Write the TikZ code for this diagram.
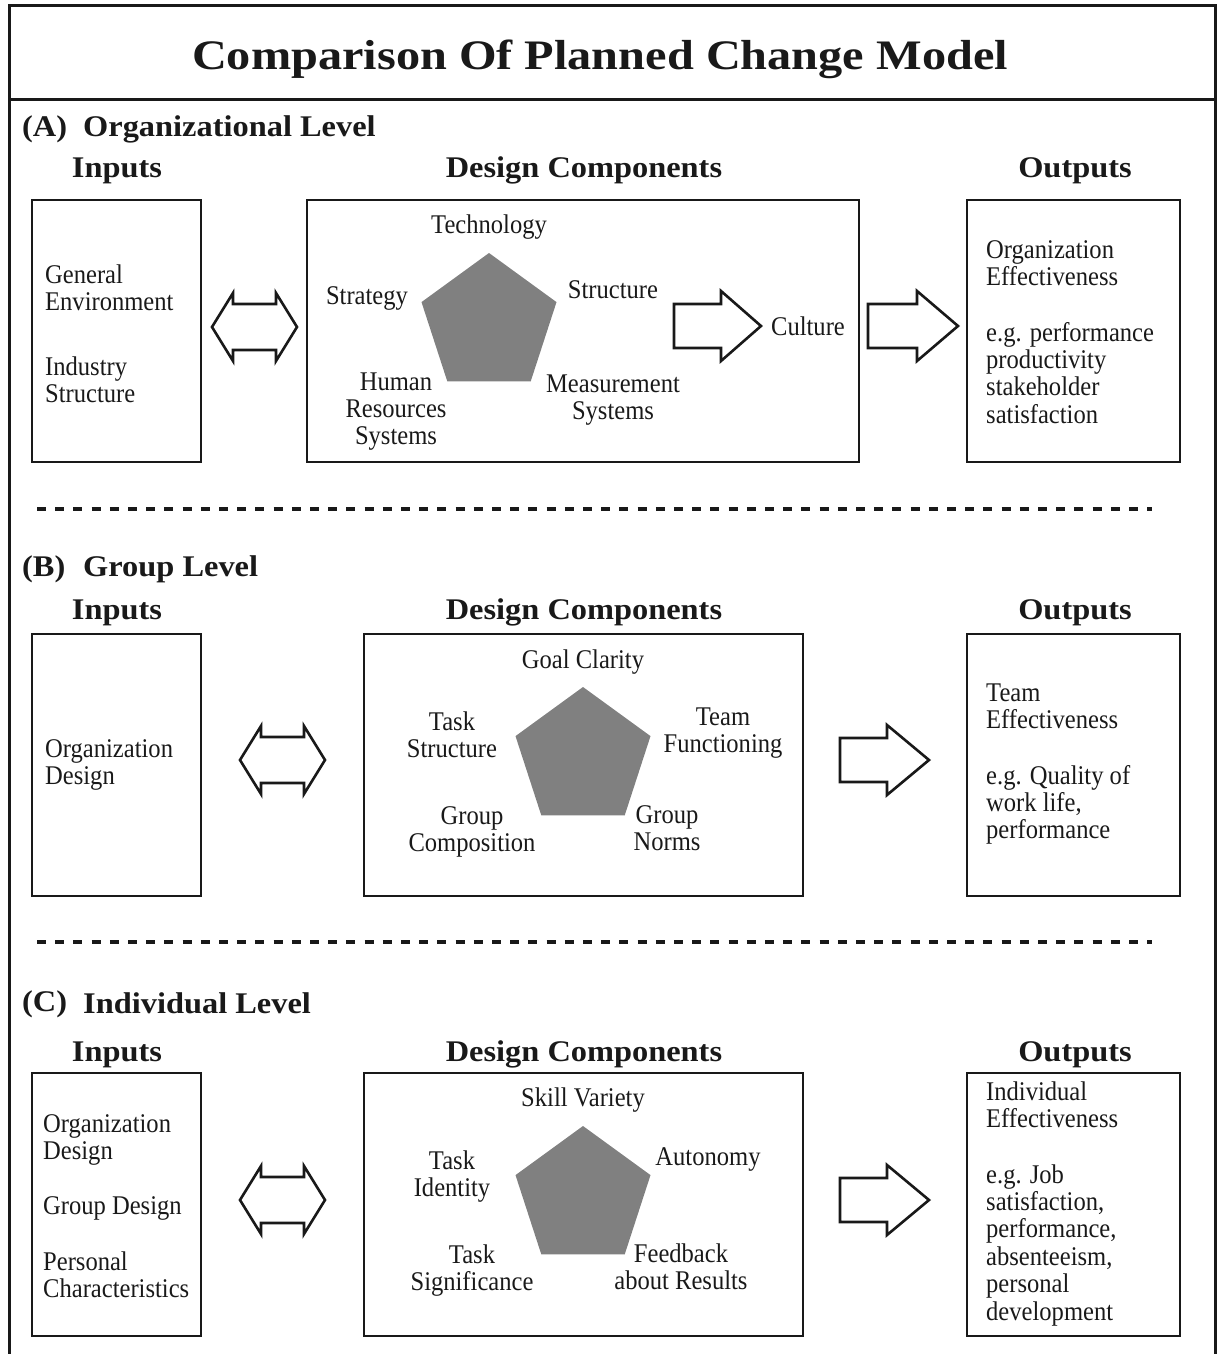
\documentclass[tikz,border=0pt]{standalone}
\usepackage{fontspec}
\setmainfont{Liberation Serif}
\newfontfamily\bodyf[FakeStretch=0.91]{Liberation Serif}
\newfontfamily\headf[FakeStretch=1.08]{Liberation Serif}
\newfontfamily\titlef[FakeStretch=1.15]{Liberation Serif}
\newcommand\dblarr[4]{% name, x1, x2, cy
  \draw[blockarrow] (#2,#4) -- (#2+21,#4-34) -- (#2+21,#4-23) -- (#3-21,#4-23) -- (#3-21,#4-34)
    -- (#3,#4) -- (#3-21,#4+34) -- (#3-21,#4+23) -- (#2+21,#4+23) -- (#2+21,#4+34) -- cycle;
  \coordinate (#1) at ({(#2+#3)/2},#4);}
\newcommand\sglarr[5]{% name, x1, xbase, xtip, cy
  \draw[blockarrow] (#2,#5-22) -- (#3,#5-22) -- (#3,#5-35) -- (#4,#5) -- (#3,#5+35) -- (#3,#5+22) -- (#2,#5+22) -- cycle;
  \coordinate (#1) at ({(#2+#4)/2},#5);}
\newcommand\penta[3]{% name, cx, top
  \fill[pentfill] (#2,#3) -- (#2+67.5,#3+49.1) -- (#2+41.7,#3+128.4) -- (#2-41.7,#3+128.4) -- (#2-67.5,#3+49.1) -- cycle;
  \coordinate (#1) at (#2,#3+71);}
\begin{document}
\begin{tikzpicture}[x=1pt,y=-1pt,
  frame/.style={line width=3pt, draw=black!90},
  box/.style={draw=black!90, line width=2.6pt, inner sep=0pt, outer sep=0pt, anchor=north west},
  blockarrow/.style={draw=black!90, line width=2.6pt, fill=white, line join=miter},
  pentfill/.style={fill=black!50},
  sep/.style={line width=4.5pt, draw=black!90, dash pattern=on 9pt off 9.2pt},
  body/.style={font=\bodyf\fontsize{27}{27.4}\selectfont, inner sep=0pt, align=left, text=black!90},
  bodyc/.style={font=\bodyf\fontsize{27}{27.4}\selectfont, inner sep=0pt, align=center, text=black!90},
  head/.style={font=\headf\bfseries\fontsize{30}{30}\selectfont, inner sep=0pt, text=black!90},
  ttl/.style={font=\titlef\bfseries\fontsize{42}{42}\selectfont, inner sep=0pt, text=black!90}]
\useasboundingbox (0,0) rectangle (1218,1354);
% frame
\draw[frame] (9.5,1370) -- (9.5,5.5) -- (1215.5,5.5) -- (1215.5,1370);
\draw[frame] (9.5,99) -- (1215.5,99);
\node[ttl, anchor=base] (title) at (600,70) {Comparison Of Planned Change Model};

% ===== Section A =====
\node[head, anchor=base west] (hA) at (22,136) {(A)};
\node[head, anchor=base west] (hAt) at (83,136) {Organizational Level};
\node[head, anchor=base] (inA) at (117,177) {Inputs};
\node[head, anchor=base] (dcA) at (584,177) {Design Components};
\node[head, anchor=base] (ouA) at (1075,177) {Outputs};
\node[box, minimum width=169pt, minimum height=262pt] (bInA) at (32,200) {};
\node[box, minimum width=552pt, minimum height=262pt] (bDcA) at (307,200) {};
\node[box, minimum width=213pt, minimum height=262pt] (bOuA) at (967,200) {};
\node[body, anchor=base west] (a1) at (45,310.4) {General\\Environment};
\node[body, anchor=base west] (a2) at (45,402.4) {Industry\\Structure};
\penta{pA}{489}{253}
\node[bodyc, anchor=base] (a3) at (489,233) {Technology};
\node[bodyc, anchor=base] (a4) at (367,304) {Strategy};
\node[bodyc, anchor=base] (a5) at (613,298) {Structure};
\node[bodyc, anchor=base] (a6) at (396,444.8) {Human\\Resources\\Systems};
\node[bodyc, anchor=base] (a7) at (613,419.4) {Measurement\\Systems};
\node[bodyc, anchor=base] (a8) at (808,335) {Culture};
\node[body, anchor=base west] (a9) at (986,285.4) {Organization\\Effectiveness};
\node[body, anchor=base west] (a10) at (986,423.2) {e.g. performance\\productivity\\stakeholder\\satisfaction};
\dblarr{arA1}{212}{297}{327}
\sglarr{arA2}{674}{721}{761}{326}
\sglarr{arA3}{868}{917}{958}{326}
\draw[sep] (37,509) -- (1152,509);

% ===== Section B =====
\node[head, anchor=base west] (hB) at (22,576) {(B)};
\node[head, anchor=base west] (hBt) at (83,576) {Group Level};
\node[head, anchor=base] (inB) at (117,619) {Inputs};
\node[head, anchor=base] (dcB) at (584,619) {Design Components};
\node[head, anchor=base] (ouB) at (1075,619) {Outputs};
\node[box, minimum width=169pt, minimum height=262pt] (bInB) at (32,634) {};
\node[box, minimum width=439pt, minimum height=262pt] (bDcB) at (364,634) {};
\node[box, minimum width=213pt, minimum height=262pt] (bOuB) at (967,634) {};
\node[body, anchor=base west] (b1) at (45,784.4) {Organization\\Design};
\penta{pB}{583}{687}
\node[bodyc, anchor=base] (b2) at (583,668) {Goal Clarity};
\node[bodyc, anchor=base] (b3) at (452,757.4) {Task\\Structure};
\node[bodyc, anchor=base] (b4) at (723,752.4) {Team\\Functioning};
\node[bodyc, anchor=base] (b5) at (472,851.4) {Group\\Composition};
\node[bodyc, anchor=base] (b6) at (667,850.4) {Group\\Norms};
\node[body, anchor=base west] (b7) at (986,728.4) {Team\\Effectiveness};
\node[body, anchor=base west] (b8) at (986,838.8) {e.g. Quality of\\work life,\\performance};
\dblarr{arB1}{240}{325}{760}
\sglarr{arB2}{840}{887}{929}{760}
\draw[sep] (37,942) -- (1152,942);

% ===== Section C =====
\node[head, anchor=base west] (hC) at (22,1011) {(C)};
\node[head, anchor=base west] (hCt) at (83,1013) {Individual Level};
\node[head, anchor=base] (inC) at (117,1061) {Inputs};
\node[head, anchor=base] (dcC) at (584,1061) {Design Components};
\node[head, anchor=base] (ouC) at (1075,1061) {Outputs};
\node[box, minimum width=169pt, minimum height=263pt] (bInC) at (32,1073) {};
\node[box, minimum width=439pt, minimum height=263pt] (bDcC) at (364,1073) {};
\node[box, minimum width=213pt, minimum height=263pt] (bOuC) at (967,1073) {};
\node[body, anchor=base west] (c1) at (43,1159.4) {Organization\\Design};
\node[body, anchor=base west] (c2) at (43,1214) {Group Design};
\node[body, anchor=base west] (c3) at (43,1297.4) {Personal\\Characteristics};
\penta{pC}{583}{1126}
\node[bodyc, anchor=base] (c4) at (583,1106) {Skill Variety};
\node[bodyc, anchor=base] (c5) at (452,1196.4) {Task\\Identity};
\node[bodyc, anchor=base] (c6) at (708,1165) {Autonomy};
\node[bodyc, anchor=base] (c7) at (472,1290.4) {Task\\Significance};
\node[bodyc, anchor=base] (c8) at (681,1289.4) {Feedback\\about Results};
\node[body, anchor=base west] (c9) at (986,1127.4) {Individual\\Effectiveness};
\node[body, anchor=base west] (c10) at (986,1320) {e.g. Job\\satisfaction,\\performance,\\absenteeism,\\personal\\development};
\dblarr{arC1}{240}{325}{1200}
\sglarr{arC2}{840}{887}{929}{1200}
\end{tikzpicture}
\end{document}
